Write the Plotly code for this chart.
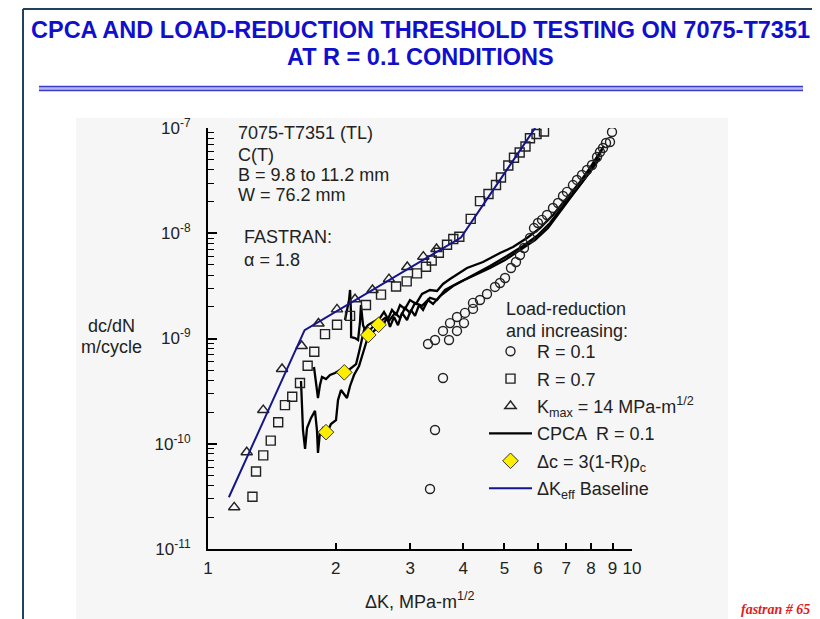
import plotly.graph_objects as go

# ---------------- data ----------------
# delta K (MPa-m^1/2) and dc/dN (m/cycle)

# load-reduction and increasing, R = 0.1 (open circles)
r01_dk = [3.339, 3.431, 3.583, 3.303, 3.431, 3.583, 3.702, 3.722, 3.866, 3.866,
          4.016, 4.037, 4.217, 4.217, 4.380, 4.550, 4.752, 4.883, 5.018, 5.183,
          5.326, 5.442, 5.562, 5.746, 5.873, 6.001, 6.134, 6.303, 6.512, 6.692,
          6.875, 7.025, 7.257, 7.417, 7.622, 7.833, 8.048, 8.270, 8.404, 8.543,
          8.683, 8.874, 8.971]
r01_dadn = [3.72e-11, 1.35e-10, 4.21e-10, 8.87e-10, 9.68e-10, 1.18e-9, 9.68e-10, 1.40e-9, 1.18e-9, 1.60e-9,
            1.40e-9, 1.75e-9, 1.91e-9, 2.18e-9, 2.32e-9, 2.65e-9, 3.09e-9, 3.37e-9, 3.76e-9, 4.68e-9,
            5.33e-9, 6.21e-9, 7.24e-9, 9.01e-9, 1.12e-8, 1.25e-8, 1.34e-8, 1.49e-8, 1.74e-8, 1.94e-8,
            2.26e-8, 2.47e-8, 2.87e-8, 3.21e-8, 3.58e-8, 3.99e-8, 4.45e-8, 5.30e-8, 5.92e-8, 6.46e-8,
            7.20e-8, 7.36e-8, 9.16e-8]

# R = 0.7 (open squares)
r07_dk = [1.273, 1.298, 1.350, 1.406, 1.464, 1.519, 1.580, 1.648, 1.718, 1.781,
          1.888, 2.015, 2.163, 2.358, 2.559, 2.777, 2.942, 3.111, 3.267, 3.370,
          3.503, 3.662, 3.789, 3.915, 4.165, 4.380, 4.587, 4.778, 4.909, 5.108,
          5.268, 5.434, 5.608, 5.746, 5.954, 6.201]
r07_dadn = [3.14e-11, 5.45e-11, 7.76e-11, 1.07e-10, 1.60e-10, 2.33e-10, 2.80e-10, 3.78e-10, 5.51e-10, 7.49e-10,
            1.10e-9, 1.35e-9, 1.64e-9, 2.08e-9, 2.61e-9, 3.12e-9, 3.49e-9, 4.16e-9, 4.81e-9, 5.51e-9,
            6.53e-9, 7.78e-9, 8.82e-9, 9.27e-9, 1.37e-8, 2.02e-8, 2.36e-8, 2.87e-8, 3.39e-8, 4.40e-8,
            5.22e-8, 5.85e-8, 6.67e-8, 7.98e-8, 8.77e-8, 9.26e-8]

# Kmax = 14 MPa-m^1/2 (open triangles)
kmax_dk = [1.153, 1.234, 1.350, 1.495, 1.663, 1.822, 2.015, 2.222, 2.443, 2.672, 2.951, 3.220, 3.459]
kmax_dadn = [2.49e-11, 8.30e-11, 2.09e-10, 5.13e-10, 8.49e-10, 1.39e-9, 1.89e-9, 2.36e-9, 2.89e-9,
             3.67e-9, 4.78e-9, 5.99e-9, 7.09e-9]

# CPCA R = 0.1, three tests
cpca_a_dk = [1.657, 1.666, 1.675, 1.694, 1.712, 1.750, 1.788, 1.807, 1.817, 1.837,
             1.867, 1.909, 1.950, 2.004, 2.026, 2.059, 2.093, 2.127, 2.163, 2.210,
             2.271, 2.321, 2.371, 2.436, 2.504, 2.586, 2.644, 2.687, 2.746, 2.806,
             2.868, 2.947, 3.011, 3.078, 3.146, 3.215, 3.303, 3.394, 3.525,
             3.783, 4.149, 4.625, 5.072, 5.532, 5.968, 6.405, 6.875, 7.417, 7.960, 8.404]
cpca_a_dadn = [3.95e-10, 2.60e-10, 1.35e-10, 8.92e-11, 1.41e-10, 1.76e-10, 2.05e-10, 1.35e-10, 8.17e-11, 1.29e-10,
               1.41e-10, 1.27e-10, 1.54e-10, 1.68e-10, 2.60e-10, 3.24e-10, 2.97e-10, 2.72e-10, 3.54e-10, 4.50e-10,
               5.48e-10, 7.44e-10, 9.68e-10, 1.13e-9, 1.26e-9, 1.34e-9, 1.57e-9, 1.29e-9, 1.60e-9, 1.34e-9,
               1.75e-9, 1.50e-9, 1.87e-9, 1.64e-9, 2.08e-9, 1.87e-9, 2.32e-9, 2.13e-9, 2.53e-9,
               3.15e-9, 3.84e-9, 4.89e-9, 6.08e-9, 7.57e-9, 9.42e-9, 1.25e-8, 1.82e-8, 2.63e-8, 3.82e-8, 5.19e-8]

cpca_b_dk = [1.778, 1.797, 1.817, 1.837, 1.857, 1.898, 1.940, 1.993, 2.048, 2.104,
             2.163, 2.235, 2.271, 2.308, 2.333, 2.384, 2.449, 2.545, 2.601, 2.658,
             2.716, 2.777, 2.837, 2.915, 2.995, 3.095, 3.197, 3.339, 3.468, 3.583,
             3.722, 4.082, 4.452, 4.883, 5.240, 5.654, 6.067, 6.512,
             7.025, 7.540, 7.960, 8.314, 8.590]
cpca_b_dadn = [5.36e-10, 4.03e-10, 2.72e-10, 3.62e-10, 4.31e-10, 4.12e-10, 4.50e-10, 4.70e-10, 5.02e-10, 4.70e-10,
               5.13e-10, 5.72e-10, 7.44e-10, 9.68e-10, 1.20e-9, 1.34e-9, 1.44e-9, 1.57e-9, 1.79e-9, 1.53e-9,
               1.87e-9, 1.67e-9, 2.08e-9, 1.91e-9, 2.32e-9, 2.13e-9, 2.65e-9, 2.89e-9, 2.83e-9, 3.30e-9,
               3.67e-9, 4.68e-9, 5.33e-9, 6.49e-9, 7.40e-9, 9.01e-9, 1.12e-8, 1.49e-8,
               2.16e-8, 3.07e-8, 4.17e-8, 5.54e-8, 6.75e-8]

cpca_c_dk = [2.104, 2.151, 2.163, 2.175, 2.175, 2.222, 2.259, 2.283, 2.295, 2.321,
             2.358, 2.410, 2.477, 2.545, 2.615, 2.672, 2.761, 2.837, 2.915, 2.995,
             3.078, 3.197, 3.339, 3.468, 3.622,
             3.929, 4.264, 4.625, 5.018, 5.442, 5.905, 6.337, 6.765, 7.220, 7.748, 8.179, 8.495]
cpca_c_dadn = [1.50e-9, 2.32e-9, 2.89e-9, 1.67e-9, 1.03e-9, 1.01e-9, 9.68e-10, 1.44e-9, 2.08e-9, 1.34e-9,
               1.15e-9, 1.20e-9, 1.37e-9, 1.44e-9, 1.57e-9, 1.47e-9, 1.75e-9, 1.57e-9, 1.95e-9, 1.75e-9,
               2.18e-9, 2.04e-9, 2.43e-9, 2.32e-9, 2.89e-9,
               3.44e-9, 4.01e-9, 4.68e-9, 5.57e-9, 6.93e-9, 8.63e-9, 1.12e-8, 1.59e-8, 2.31e-8, 3.35e-8,
               4.75e-8, 6.18e-8]

# delta c = 3(1-R) rho_c points (yellow diamonds)
dc_dk = [1.898, 2.096, 2.388, 2.525]
dc_dadn = [1.29e-10, 4.77e-10, 1.08e-9, 1.35e-9]

# FASTRAN delta Keff baseline
base_dk = [1.12, 1.69, 3.95, 5.91]
base_dadn = [3.1e-11, 1.2e-9, 9.1e-9, 1.0e-7]

x_ticks = [1, 2, 3, 4, 5, 6, 7, 8, 9, 10]
y_ticks = [1e-11, 1e-10, 1e-9, 1e-8, 1e-7]
y_ticktext = ["10<sup>-11</sup>", "10<sup>-10</sup>", "10<sup>-9</sup>", "10<sup>-8</sup>", "10<sup>-7</sup>"]
y_minor = [k * 10.0 ** e for e in range(-11, -7) for k in range(2, 10)]

# ---------------- layout helpers (reference pixel -> paper) ----------------
# the page body adds an 8 px margin, so the figure is 8 px smaller each way
OFF = 8
W, H = 820 - OFF, 619 - OFF
PL, PT, PR, PB = 208, 128, 632, 549          # plot area in reference pixels
PW, PH = PR - PL, PB - PT

def xp(px):
    return (px - PL) / PW

def yp(py):
    return (PB - py) / PH

FONT = "Liberation Sans, Arial, sans-serif"
TXT = "#222222"

fig = go.Figure()

cpca_style = dict(color="black", width=2.3)
fig.add_trace(go.Scatter(x=cpca_a_dk, y=cpca_a_dadn, mode="lines", line=cpca_style,
                         name="CPCA  R = 0.1", legendrank=4, legendgroup="d"))
fig.add_trace(go.Scatter(x=cpca_b_dk, y=cpca_b_dadn, mode="lines", line=cpca_style,
                         showlegend=False))
fig.add_trace(go.Scatter(x=cpca_c_dk, y=cpca_c_dadn, mode="lines", line=cpca_style,
                         showlegend=False))

fig.add_trace(go.Scatter(x=r01_dk, y=r01_dadn, mode="markers", name="R = 0.1",
                         legendrank=1, legendgroup="a",
                         marker=dict(symbol="circle-open", size=9, color="#222",
                                     line=dict(width=1.4))))
fig.add_trace(go.Scatter(x=r07_dk, y=r07_dadn, mode="markers", name="R = 0.7",
                         legendrank=2, legendgroup="b",
                         marker=dict(symbol="square-open", size=9, color="#222",
                                     line=dict(width=1.4))))
fig.add_trace(go.Scatter(x=kmax_dk, y=kmax_dadn, mode="markers",
                         name="K<sub>max</sub> = 14 MPa-m<sup>1/2</sup>",
                         legendrank=3, legendgroup="c",
                         marker=dict(symbol="triangle-up-open", size=10, color="#222",
                                     line=dict(width=1.4))))
fig.add_trace(go.Scatter(x=base_dk, y=base_dadn, mode="lines", name="ΔK<sub>eff</sub> Baseline",
                         legendrank=6, legendgroup="f", line=dict(color="#14148c", width=2)))
fig.add_trace(go.Scatter(x=dc_dk, y=dc_dadn, mode="markers", name="Δc = 3(1-R)ρ<sub>c</sub>",
                         legendrank=5, legendgroup="e",
                         marker=dict(symbol="diamond", size=12, color="#ffee00",
                                     line=dict(color="#333", width=1))))

fig.update_xaxes(type="log", range=[0, 1], tickvals=x_ticks, ticktext=[str(v) for v in x_ticks],
                 ticks="inside", ticklen=6, tickwidth=1.5, tickcolor="black",
                 showline=True, linecolor="black", linewidth=2, showgrid=False, zeroline=False,
                 tickfont=dict(family=FONT, size=17, color=TXT), ticklabelstandoff=3)
fig.update_yaxes(type="log", range=[-11, -7], tickvals=y_ticks, ticktext=y_ticktext,
                 ticks="inside", ticklen=9, tickwidth=1.5, tickcolor="black",
                 minor=dict(tickvals=y_minor, ticks="inside", ticklen=6, tickwidth=1.2,
                            tickcolor="black"),
                 showline=True, linecolor="black", linewidth=2, showgrid=False, zeroline=False,
                 tickfont=dict(family=FONT, size=17, color=TXT), ticklabelstandoff=12)

shapes = [
    # grey content panel
    dict(type="rect", xref="paper", yref="paper", x0=xp(76), x1=xp(728), y0=yp(619), y1=yp(118),
         fillcolor="#f6f6f6", line=dict(width=0), layer="below"),
    # slide frame
    dict(type="line", xref="paper", yref="paper", x0=xp(23), x1=xp(23), y0=yp(619), y1=yp(9),
         line=dict(color="#23405e", width=2)),
    dict(type="line", xref="paper", yref="paper", x0=xp(23), x1=xp(820), y0=yp(9), y1=yp(9),
         line=dict(color="#23405e", width=2)),
    # double rule under title
    dict(type="rect", xref="paper", yref="paper", x0=xp(39), x1=xp(803), y0=yp(91), y1=yp(86),
         fillcolor="#b4b8f0", line=dict(width=0)),
    dict(type="line", xref="paper", yref="paper", x0=xp(39), x1=xp(803), y0=yp(86.5), y1=yp(86.5),
         line=dict(color="#3c3cc8", width=1.5)),
    dict(type="line", xref="paper", yref="paper", x0=xp(39), x1=xp(803), y0=yp(90.5), y1=yp(90.5),
         line=dict(color="#3c3cc8", width=1.5)),
]

def note(text, px, py, size=18, anchor="left", color=TXT, family=FONT):
    return dict(text=text, xref="paper", yref="paper", x=xp(px), y=yp(py), xanchor=anchor,
                yanchor="middle", showarrow=False, font=dict(family=family, size=size, color=color))

annotations = [
    note("<b>CPCA AND LOAD-REDUCTION THRESHOLD TESTING ON 7075-T7351</b>", 420, 30, size=23.5,
         anchor="center", color="#1010cc"),
    note("<b>AT R = 0.1 CONDITIONS</b>", 420, 57, size=23.5, anchor="center", color="#1010cc"),
    note("7075-T7351 (TL)", 236, 133),
    note("C(T)", 236, 155),
    note("B = 9.8 to 11.2 mm", 236, 175),
    note("W = 76.2 mm", 236, 195),
    note("FASTRAN:", 242, 237),
    note("α = 1.8", 242, 260),
    note("Load-reduction", 504, 309),
    note("and increasing:", 504, 331),
    note("dc/dN", 111, 326, anchor="center"),
    note("m/cycle", 111, 347, anchor="center"),
    note("ΔK, MPa-m<sup>1/2</sup>", 420, 600, anchor="center"),
    note("<b><i>fastran # 65</i></b>", 812, 609, size=14, anchor="right", color="#e0201c",
         family="Liberation Serif, Times New Roman, serif"),
]

fig.update_layout(
    width=W, height=H,
    margin=dict(l=PL - OFF, r=W - (PR - OFF), t=PT - OFF, b=H - (PB - OFF), autoexpand=False),
    paper_bgcolor="white", plot_bgcolor="rgba(0,0,0,0)",
    font=dict(family=FONT, color=TXT),
    shapes=shapes, annotations=annotations,
    legend=dict(x=xp(484), y=yp(333), xanchor="left", yanchor="top", bgcolor="rgba(0,0,0,0)",
                font=dict(family=FONT, size=18, color=TXT), itemwidth=43,
                traceorder="grouped", tracegroupgap=1),
)

fig.write_html("out.html")
